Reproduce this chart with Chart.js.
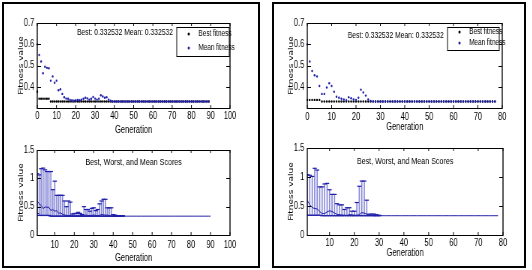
<!DOCTYPE html>
<html>
<head>
<meta charset="utf-8">
<script src="https://cdn.jsdelivr.net/npm/chart.js@4.4.1/dist/chart.umd.min.js"></script>
<style>
  body { margin: 0; background: #fff; width: 532px; height: 270px; position: relative; overflow: hidden; }
  .panel { position: absolute; border: 2px solid #000; box-sizing: border-box; }
  canvas { position: absolute; transform-origin: 0 0; transform: scaleX(0.75); }
</style>
</head>
<body>
<div class="panel" style="left:2px;top:2px;width:258px;height:266px"></div>
<div class="panel" style="left:272px;top:2px;width:254px;height:266px"></div>
<canvas id="fitLeft" width="333" height="132" style="left:5px;top:5px"></canvas>
<canvas id="fitRight" width="330" height="132" style="left:275px;top:5px"></canvas>
<canvas id="rangeLeft" width="333" height="127" style="left:5px;top:138px"></canvas>
<canvas id="rangeRight" width="330" height="127" style="left:275px;top:138px"></canvas>
<script>
// run 1 (left panel): generations 0..89
const meanLeft = [
  0.600, 0.550, 0.520, 0.465, 0.495, 0.490, 0.488, 0.430, 0.450, 0.420,
  0.430, 0.385, 0.390, 0.368, 0.352, 0.346, 0.345, 0.340, 0.338, 0.336,
  0.338, 0.340, 0.338, 0.341, 0.345, 0.350, 0.347, 0.341, 0.345, 0.354,
  0.346, 0.341, 0.345, 0.362, 0.356, 0.350, 0.352, 0.341, 0.336, 0.3325,
  0.3325, 0.3325, 0.3325, 0.3325, 0.3325, 0.3325, 0.3325, 0.3325, 0.3325, 0.3325,
  0.3325, 0.3325, 0.3325, 0.3325, 0.3325, 0.3325, 0.3325, 0.3325, 0.3325, 0.3325,
  0.3325, 0.3325, 0.3325, 0.3325, 0.3325, 0.3325, 0.3325, 0.3325, 0.3325, 0.3325,
  0.3325, 0.3325, 0.3325, 0.3325, 0.3325, 0.3325, 0.3325, 0.3325, 0.3325, 0.3325,
  0.3325, 0.3325, 0.3325, 0.3325, 0.3325, 0.3325, 0.3325, 0.3325, 0.3325, 0.3325
];
const bestLeft = [
  0.378, 0.345, 0.345, 0.345, 0.345, 0.345, 0.345, 0.3325, 0.3325, 0.3325,
  0.3325, 0.3325, 0.3325, 0.3325, 0.3325, 0.3325, 0.3325, 0.3325, 0.3325, 0.3325,
  0.3325, 0.3325, 0.3325, 0.3325, 0.3325, 0.3325, 0.3325, 0.3325, 0.3325, 0.3325,
  0.3325, 0.3325, 0.3325, 0.3325, 0.3325, 0.3325, 0.3325, 0.3325, 0.3325, 0.3325,
  0.3325, 0.3325, 0.3325, 0.3325, 0.3325, 0.3325, 0.3325, 0.3325, 0.3325, 0.3325,
  0.3325, 0.3325, 0.3325, 0.3325, 0.3325, 0.3325, 0.3325, 0.3325, 0.3325, 0.3325,
  0.3325, 0.3325, 0.3325, 0.3325, 0.3325, 0.3325, 0.3325, 0.3325, 0.3325, 0.3325,
  0.3325, 0.3325, 0.3325, 0.3325, 0.3325, 0.3325, 0.3325, 0.3325, 0.3325, 0.3325,
  0.3325, 0.3325, 0.3325, 0.3325, 0.3325, 0.3325, 0.3325, 0.3325, 0.3325, 0.3325
];
// worst score per generation, bottom plot x = 1..45
const worstLeft = [
  1.08, 1.06, 1.17, 1.18, 1.15, 1.12, 1.12, 1.12, 0.80, 0.95,
  0.70, 0.70, 0.70, 0.70, 0.60, 0.50, 0.60, 0.58, 0.37, 0.38,
  0.38, 0.40, 0.38, 0.36, 0.50, 0.45, 0.45, 0.42, 0.47, 0.48,
  0.43, 0.45, 0.55, 0.60, 0.63, 0.63, 0.48, 0.48, 0.48, 0.36,
  0.35, 0.34, 0.34, 0.34, 0.34
];

// run 2 (right panel): generations 0..77
const meanRight = [
  0.600, 0.520, 0.475, 0.455, 0.450, 0.405, 0.368, 0.368, 0.398, 0.418,
  0.405, 0.378, 0.355, 0.350, 0.345, 0.342, 0.338, 0.352, 0.348, 0.342,
  0.340, 0.350, 0.388, 0.375, 0.360, 0.342, 0.335, 0.3325, 0.3325, 0.3325,
  0.3325, 0.3325, 0.3325, 0.3325, 0.3325, 0.3325, 0.3325, 0.3325, 0.3325, 0.3325,
  0.3325, 0.3325, 0.3325, 0.3325, 0.3325, 0.3325, 0.3325, 0.3325, 0.3325, 0.3325,
  0.3325, 0.3325, 0.3325, 0.3325, 0.3325, 0.3325, 0.3325, 0.3325, 0.3325, 0.3325,
  0.3325, 0.3325, 0.3325, 0.3325, 0.3325, 0.3325, 0.3325, 0.3325, 0.3325, 0.3325,
  0.3325, 0.3325, 0.3325, 0.3325, 0.3325, 0.3325, 0.3325, 0.3325
];
const bestRight = [
  0.340, 0.340, 0.340, 0.340, 0.340, 0.340, 0.3325, 0.3325, 0.3325, 0.3325,
  0.3325, 0.3325, 0.3325, 0.3325, 0.3325, 0.3325, 0.3325, 0.3325, 0.3325, 0.3325,
  0.3325, 0.3325, 0.3325, 0.3325, 0.3325, 0.3325, 0.3325, 0.3325, 0.3325, 0.3325,
  0.3325, 0.3325, 0.3325, 0.3325, 0.3325, 0.3325, 0.3325, 0.3325, 0.3325, 0.3325,
  0.3325, 0.3325, 0.3325, 0.3325, 0.3325, 0.3325, 0.3325, 0.3325, 0.3325, 0.3325,
  0.3325, 0.3325, 0.3325, 0.3325, 0.3325, 0.3325, 0.3325, 0.3325, 0.3325, 0.3325,
  0.3325, 0.3325, 0.3325, 0.3325, 0.3325, 0.3325, 0.3325, 0.3325, 0.3325, 0.3325,
  0.3325, 0.3325, 0.3325, 0.3325, 0.3325, 0.3325, 0.3325, 0.3325
];
// bottom plot x = 1..30
const worstRight = [
  1.04, 1.03, 1.01, 1.15, 1.12, 0.83, 0.83, 0.88, 0.89, 0.78,
  0.70, 0.70, 0.54, 0.52, 0.52, 0.44, 0.47, 0.47, 0.41, 0.41,
  0.56, 0.84, 0.93, 0.93, 0.60, 0.36, 0.36, 0.36, 0.35, 0.34
];

const fitYTicks = [0.4, 0.5, 0.6, 0.7];
const rangeYTicks = [0, 0.5, 1, 1.5];
const xTicksLeft = [0, 10, 20, 30, 40, 50, 60, 70, 80, 90, 100];
const xTicksRight = [0, 10, 20, 30, 40, 50, 60, 70, 80];
const seriesNames = ['Best fitness', 'Mean fitness'];
const noteText = 'Best: 0.332532 Mean: 0.332532';
const rangeTitle = 'Best, Worst, and Mean Scores';

const NARROW = "'Liberation Sans Narrow', 'Liberation Sans', Arial, sans-serif";
const BLUE = '#1f1fa8';
const BAR_BLUE = '#8a8ad8';

Chart.defaults.color = '#000';
Chart.defaults.font.family = NARROW;
Chart.defaults.animation = false;
Chart.defaults.events = [];

// box + inward ticks on all four sides, like matlab axes
const matlabBox = {
  id: 'matlabBox',
  afterDatasetsDraw(chart) {
    const {ctx, chartArea: a, scales: {x, y}} = chart;
    ctx.save();
    ctx.strokeStyle = '#000';
    ctx.beginPath();
    ctx.lineWidth = 1;
    ctx.moveTo(a.left, Math.round(a.top) + 0.5); ctx.lineTo(a.right, Math.round(a.top) + 0.5);
    ctx.moveTo(a.left, Math.round(a.bottom) + 0.5); ctx.lineTo(a.right, Math.round(a.bottom) + 0.5);
    x.ticks.forEach(t => {
      const px = x.getPixelForValue(t.value);
      ctx.moveTo(px, a.bottom); ctx.lineTo(px, a.bottom - 3);
      ctx.moveTo(px, a.top); ctx.lineTo(px, a.top + 3);
    });
    y.ticks.forEach(t => {
      const py = Math.round(y.getPixelForValue(t.value)) + 0.5;
      ctx.moveTo(a.left, py); ctx.lineTo(a.left + 5, py);
      ctx.moveTo(a.right, py); ctx.lineTo(a.right - 5, py);
    });
    ctx.stroke();
    ctx.beginPath();
    ctx.lineWidth = 1.35;
    ctx.moveTo(a.left, a.top); ctx.lineTo(a.left, a.bottom + 1);
    ctx.moveTo(a.right, a.top); ctx.lineTo(a.right, a.bottom + 1);
    ctx.stroke();
    ctx.restore();
  }
};

// text note, subplot title and the boxed legend
const notes = {
  id: 'notes',
  afterDraw(chart, args, o) {
    const {ctx, chartArea: a} = chart;
    ctx.save();
    ctx.fillStyle = '#000';
    ctx.textBaseline = 'middle';
    ctx.font = o.size + 'px ' + NARROW;
    if (o.align === 'center') {
      ctx.textAlign = 'center';
      ctx.fillText(o.text, (a.left + a.right) / 2, a.top + o.dy);
    } else {
      ctx.textAlign = 'right';
      ctx.fillText(o.text, a.right - o.dx, a.top + o.dy);
    }
    if (o.legend) {
      const L = o.legend;
      const bx = a.right - L.right - L.width, by = a.top + L.top;
      ctx.fillStyle = '#fff';
      ctx.fillRect(bx, by, L.width, L.height);
      ctx.strokeStyle = '#000';
      ctx.lineWidth = 1;
      ctx.strokeRect(bx, Math.round(by) + 0.5, L.width, L.height);
      ctx.font = '8.5px ' + NARROW;
      ctx.textAlign = 'left';
      chart.data.datasets.forEach((ds, i) => {
        const ry = by + L.rows[i];
        ctx.fillStyle = ds.pointBackgroundColor;
        ctx.beginPath();
        ctx.arc(bx + 16, ry, 1.5, 0, Math.PI * 2);
        ctx.fill();
        ctx.fillStyle = '#000';
        ctx.fillText(ds.label, bx + 29, ry);
      });
    }
    ctx.restore();
  }
};

function axes(o) {
  return {
    x: {
      type: 'linear', min: o.xMin, max: o.xMax, offset: false,
      afterBuildTicks: s => { s.ticks = o.xTicks.map(v => ({value: v})); },
      afterFit: s => { s.height = o.xHeight; },
      grid: {display: false, drawTicks: false}, border: {display: false},
      ticks: {padding: o.xPad, font: {size: 10}, maxRotation: 0, autoSkip: false, callback: v => String(v)},
      title: {display: true, text: 'Generation', font: {size: 10}, padding: {top: 0, bottom: o.titlePad}}
    },
    y: {
      type: 'linear', min: o.yMin, max: o.yMax,
      afterBuildTicks: s => { s.ticks = o.yTicks.map(v => ({value: v})); },
      afterFit: s => { s.width = 43; },
      grid: {display: false, drawTicks: false}, border: {display: false},
      ticks: {padding: 4, font: {size: 10}, callback: v => String(v)},
      title: {display: true, text: 'Fitness value', font: {family: 'DejaVu Sans', size: 9}, padding: {top: 16, bottom: 0}}
    }
  };
}

function fitChart(id, best, mean, xTicks, xMax, pad, x, legend, noteDx, noteDy) {
  return new Chart(document.getElementById(id), {
    type: 'scatter',
    data: {
      datasets: [
        {label: seriesNames[0], data: best.map((v, i) => ({x: i, y: v})), order: 1,
         pointRadius: 1.2, pointBackgroundColor: '#000', pointBorderWidth: 0, clip: false},
        {label: seriesNames[1], data: mean.map((v, i) => ({x: i, y: v})), order: 0,
         pointRadius: 1.2, pointBackgroundColor: BLUE, pointBorderWidth: 0, clip: false}
      ]
    },
    options: {
      responsive: false,
      layout: {padding: pad},
      scales: axes({xMin: 0, xMax: xMax, xTicks: xTicks, yMin: 0.302, yMax: 0.7, yTicks: fitYTicks,
                    xHeight: x.height, xPad: x.pad, titlePad: x.titlePad}),
      plugins: {
        legend: {display: false}, tooltip: {enabled: false},
        notes: {text: noteText, align: 'right', dx: noteDx, dy: noteDy, size: 9, legend: legend}
      }
    },
    plugins: [matlabBox, notes]
  });
}

function rangeChart(id, best, mean, worst, xTicks, xMax, pad, x, titleDy) {
  return new Chart(document.getElementById(id), {
    type: 'bar',
    data: {
      datasets: [
        {type: 'line', data: mean.map((v, i) => ({x: i + 1, y: v})), order: 0,
         borderColor: BLUE, borderWidth: 1, pointRadius: 0},
        {type: 'line', data: worst.map((w, i) => ({x: i + 1, y: w})), order: 1, showLine: false,
         pointStyle: 'line', pointRadius: 2.8, pointBorderColor: BLUE, pointBorderWidth: 1.2},
        {type: 'line', data: worst.map((w, i) => ({x: i + 1, y: best[i]})), order: 1, showLine: false,
         pointStyle: 'line', pointRadius: 2.8, pointBorderColor: BLUE, pointBorderWidth: 1.2},
        {type: 'bar', data: worst.map((w, i) => ({x: i + 1, y: [best[i], w]})), order: 2,
         backgroundColor: BAR_BLUE, barThickness: 1, grouped: false}
      ]
    },
    options: {
      responsive: false,
      layout: {padding: pad},
      scales: axes({xMin: 1, xMax: xMax, xTicks: xTicks, yMin: 0, yMax: 1.5, yTicks: rangeYTicks,
                    xHeight: x.height, xPad: x.pad, titlePad: x.titlePad}),
      plugins: {
        legend: {display: false}, tooltip: {enabled: false},
        notes: {text: rangeTitle, align: 'center', dy: titleDy, size: 9.5}
      }
    },
    plugins: [matlabBox, notes]
  });
}

fitChart('fitLeft', bestLeft, meanLeft, xTicksLeft, 100,
  {left: 0, top: 18, right: 33, bottom: 0}, {height: 29, pad: 2, titlePad: 1},
  {right: 1, top: 4, width: 70, height: 29, rows: [7, 21]}, 76, 10);
fitChart('fitRight', bestRight, meanRight, xTicksRight, 80,
  {left: 0, top: 18, right: 27, bottom: 0}, {height: 29, pad: 3, titlePad: 4},
  {right: 4, top: 4, width: 69, height: 23, rows: [5, 16]}, 78, 13);
rangeChart('rangeLeft', bestLeft, meanLeft, worstLeft, xTicksLeft.slice(1), 100,
  {left: 0, top: 12, right: 33, bottom: 0}, {height: 30, pad: 4, titlePad: 1}, 12);
rangeChart('rangeRight', bestRight, meanRight, worstRight, xTicksRight.slice(1), 80,
  {left: 0, top: 10, right: 26, bottom: 0}, {height: 30, pad: 2, titlePad: 6}, 13);
</script>
</body>
</html>
